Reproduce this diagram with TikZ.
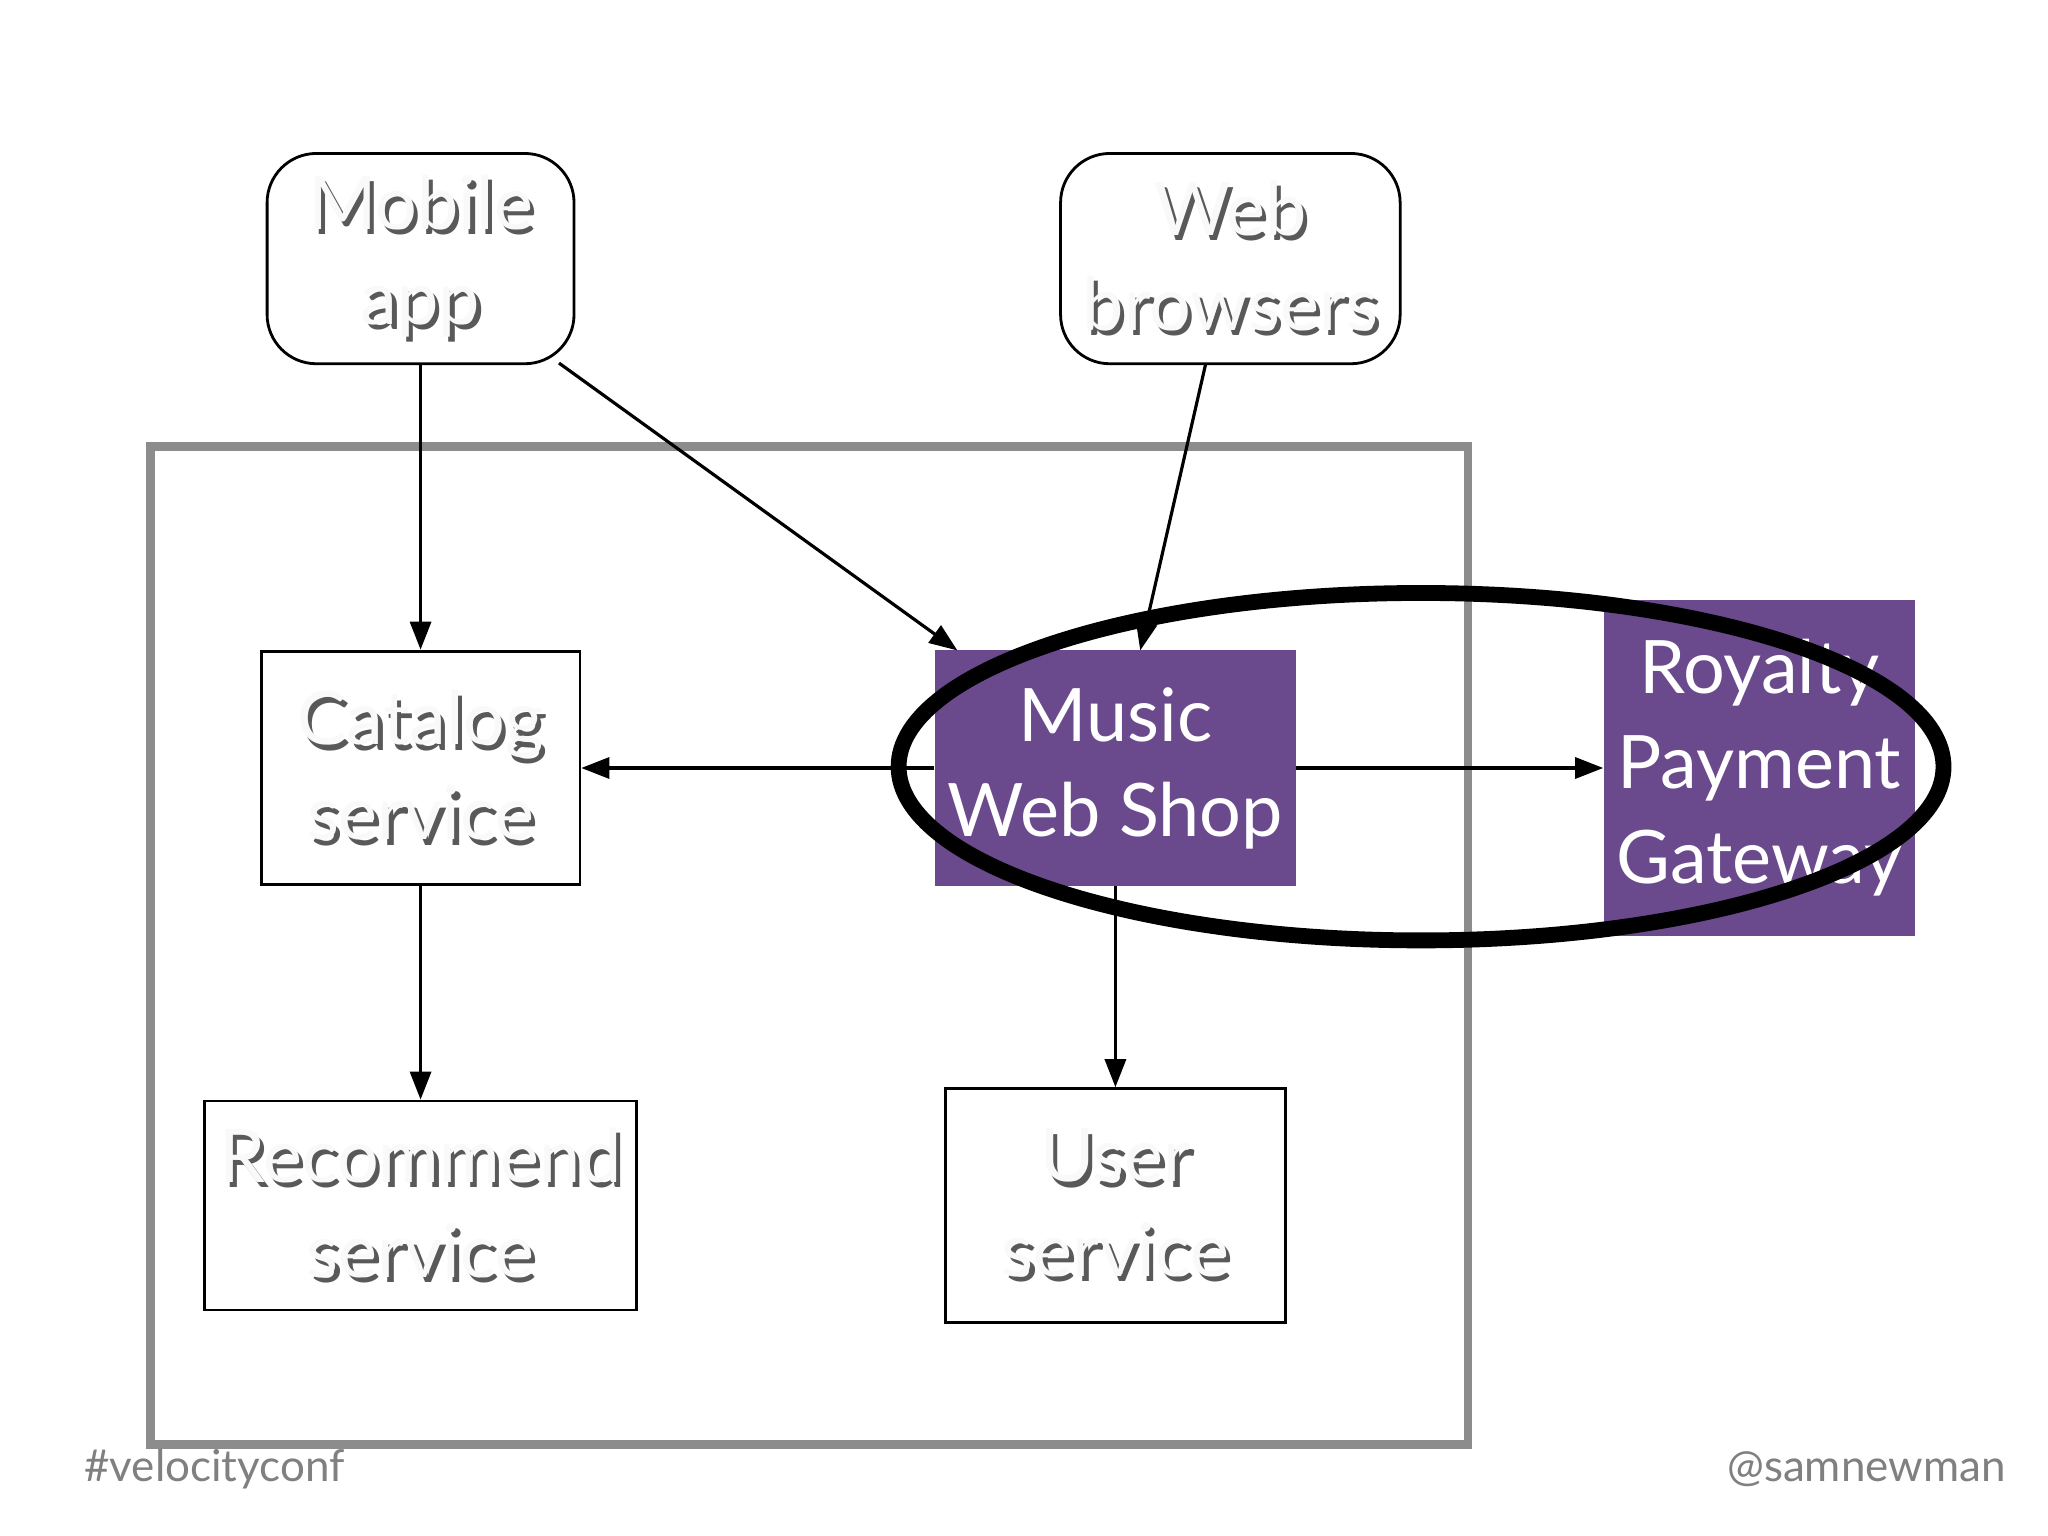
\documentclass[tikz,border=0pt]{standalone}
\usepackage{fontspec}
\setmainfont{Lato}
\usetikzlibrary{arrows.meta,calc}
\definecolor{purp}{HTML}{6A4A8C}
\newcommand\emline[1]{\leavevmode\rlap{\kern1.2pt\raisebox{-1.6pt}{\textcolor{black!65}{#1}}}\textcolor{gray!5}{#1}}
\begin{document}
\begin{tikzpicture}[x=0.01306cm,y=-0.01306cm,
  box/.style={draw=black,line width=0.8pt,fill=white,inner sep=0,font=\fontsize{21}{27}\selectfont,align=center},
  rbox/.style={box,rounded corners=14},
  pbox/.style={fill=purp,draw=none,inner sep=0,text=white,font=\fontsize{21}{27}\selectfont,align=center},
  arr/.style={-{Triangle[length=8pt,width=6pt]},line width=0.9pt}]
\useasboundingbox (0,0) rectangle (1568,1176);
\fill[white] (0,0) rectangle (1568,1176);
\draw[gray!90,line width=2.5pt] (115,342) rectangle (1124,1106);
\node[rbox,minimum width=235*0.01306cm,minimum height=161*0.01306cm] (mob) at (322,198) {\emline{Mobile}\\\emline{app}};
\node[rbox,minimum width=260*0.01306cm,minimum height=161*0.01306cm] (web) at (942,198) {\emline{Web}\\\emline{browsers}};
\node[box,minimum width=244*0.01306cm,minimum height=179*0.01306cm] (cat) at (322,588) {\emline{Catalog}\\\emline{service}};
\node[pbox,minimum width=276*0.01306cm,minimum height=180*0.01306cm] (mws) at (854,588) {Music\\Web Shop};
\node[pbox,minimum width=238*0.01306cm,minimum height=258*0.01306cm] (roy) at (1347,588) {Royalty\\Payment\\Gateway};
\node[box,minimum width=331*0.01306cm,minimum height=160*0.01306cm] (rec) at (322,923) {\emline{Recommend}\\\emline{service}};
\node[box,minimum width=260*0.01306cm,minimum height=179*0.01306cm] (usr) at (854,923) {\emline{User}\\\emline{service}};
\draw[arr] (mob.south) -- (cat.north);
\coordinate (m1) at (428,278); \coordinate (m2) at (733,498);
\draw[arr] (m1) -- (m2);
\coordinate (w1) at (923,279); \coordinate (w2) at (873,498);
\draw[arr] (w1) -- (w2);
\draw[arr] (mws.west) -- (cat.east);
\draw[arr] (mws.east) -- (roy.west);
\draw[arr] (cat.south) -- (rec.north);
\draw[arr] (mws.south) -- (usr.north);
\draw[line width=4.5pt] (1088,587) ellipse [x radius=400, y radius=133];
\node[anchor=west,text=gray,font=\fontsize{12.5}{15}\selectfont] (vc) at (55,1125) {\#velocityconf};
\node[anchor=east,text=gray,font=\fontsize{12.5}{15}\selectfont] (sn) at (1545,1125) {@samnewman};
\end{tikzpicture}
\end{document}
